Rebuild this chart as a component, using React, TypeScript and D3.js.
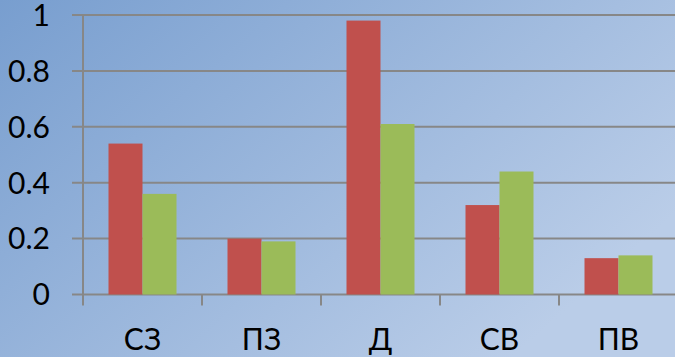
import React from "react";
import * as d3 from "d3";

const categories = ["СЗ", "ПЗ", "Д", "СВ", "ПВ"];
const series1 = [0.54, 0.2, 0.98, 0.32, 0.13];
const series2 = [0.36, 0.19, 0.61, 0.44, 0.14];
const yTicks = [0, 0.2, 0.4, 0.6, 0.8, 1];
const yTickLabels = ["0", "0.2", "0.4", "0.6", "0.8", "1"];

const W = 675;
const H = 357;
const left = 83;
const right = 678;
const top = 15;
const bottom = 294.5;

export default function App() {
  const x = d3.scaleBand<string>().domain(categories).range([left, right]).paddingInner(0).paddingOuter(0);
  const y = d3.scaleLinear().domain([0, 1]).range([bottom, top]);
  const bw = x.bandwidth();
  const barW = 34;
  const font = "Lato, 'Open Sans', 'Liberation Sans', sans-serif";
  return (
    <svg width={W} height={H} style={{ position: "absolute", left: 0, top: 0 }}>
      <defs>
        <linearGradient id="bg" x1="0" y1="0" x2="1" y2="0.6">
          <stop offset="0" stopColor="#789ECF" />
          <stop offset="1" stopColor="#BACDE8" />
        </linearGradient>
      </defs>
      <rect x={0} y={0} width={W} height={H} fill="url(#bg)" />
      {yTicks.map((t) => (
        <line key={t} x1={72} x2={W} y1={y(t)} y2={y(t)} stroke="#878787" strokeWidth={2} />
      ))}
      <line x1={left} x2={left} y1={top} y2={bottom + 11} stroke="#878787" strokeWidth={2} />
      {categories.map((c, i) => (
        <line key={"t" + c} x1={(x(c) as number) + bw} x2={(x(c) as number) + bw} y1={bottom} y2={bottom + 11} stroke="#878787" strokeWidth={2} />
      ))}
      {categories.map((c, i) => {
        const cx = (x(c) as number) + bw / 2;
        return (
          <g key={c}>
            <rect x={cx - barW} y={y(series1[i])} width={barW} height={bottom - y(series1[i])} fill="#C0504D" />
            <rect x={cx} y={y(series2[i])} width={barW} height={bottom - y(series2[i])} fill="#9BBB59" />
            <text x={cx} y={350} textAnchor="middle" fontSize={30} fontFamily={font} fill="#000">{c}</text>
          </g>
        );
      })}
      {yTicks.map((t, i) => (
        <text key={"l" + t} x={50} y={y(t)} dy="0.36em" textAnchor="end" fontSize={30} fontFamily={font} fill="#000">{yTickLabels[i]}</text>
      ))}
    </svg>
  );
}
